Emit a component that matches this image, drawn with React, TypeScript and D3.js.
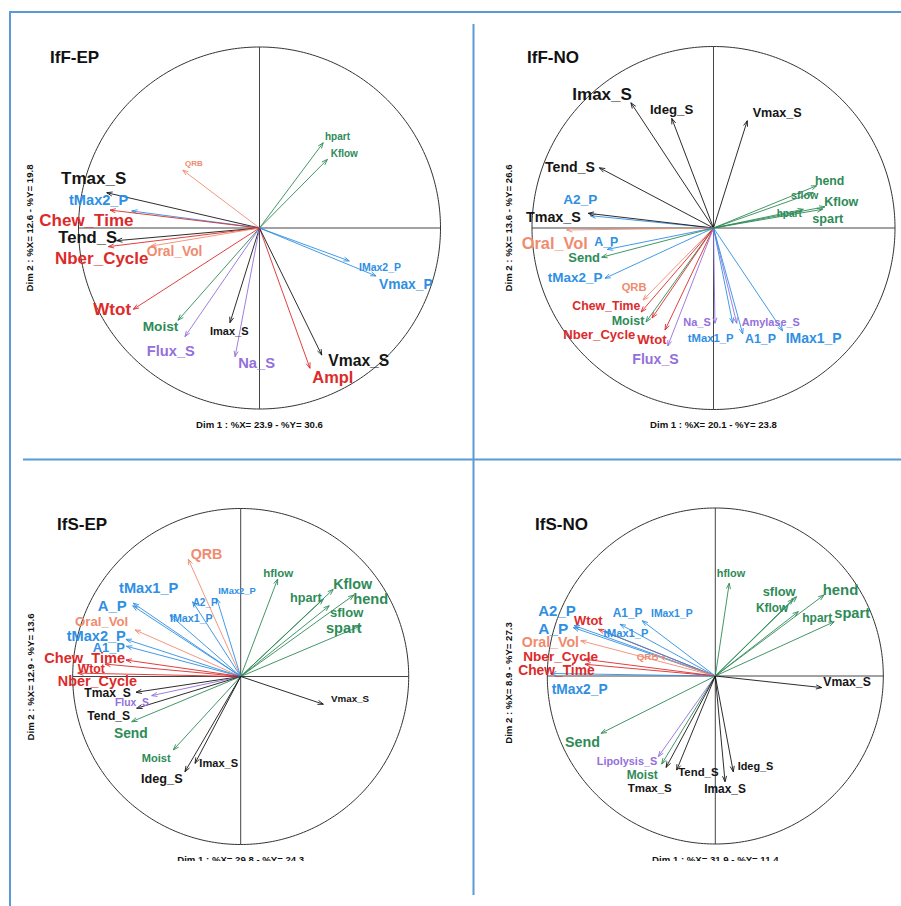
import React from 'react';
import * as d3 from 'd3';

// ---------- Panel 1 : IfF-EP ----------
const P1_TITLE = 'IfF-EP';
const P1_DIM1_LABEL = 'Dim 1 : %X= 23.9 - %Y= 30.6';
const P1_DIM2_LABEL = 'Dim 2 : %X= 12.6 - %Y= 19.8';
const P1_VARS = ['hpart', 'Kflow', 'QRB', 'Tmax_S', 'tMax2_P', 'Chew_Time', 'Tend_S', 'Nber_Cycle', 'Oral_Vol', 'Wtot', 'Moist', 'Flux_S', 'Imax_S', 'Na_S', 'Ampl', 'Vmax_S', 'IMax2_P', 'Vmax_P'];
const P1_DIM1 = [0.352, 0.375, -0.424, -0.844, -0.706, -0.826, -0.789, -0.835, -0.6, -0.697, -0.45, -0.412, -0.163, -0.135, 0.279, 0.344, 0.496, 0.644];
const P1_DIM2 = [0.471, 0.379, 0.32, 0.195, 0.094, 0.099, -0.07, -0.103, -0.1, -0.449, -0.51, -0.6, -0.523, -0.711, -0.775, -0.702, -0.182, -0.265];
const P1_GROUP = ['g', 'g', 's', 'k', 'b', 'r', 'k', 'r', 's', 'r', 'g', 'p', 'k', 'p', 'r', 'k', 'b', 'b'];

// ---------- Panel 2 : IfF-NO ----------
const P2_TITLE = 'IfF-NO';
const P2_DIM1_LABEL = 'Dim 1 : %X= 20.1 - %Y= 23.8';
const P2_DIM2_LABEL = 'Dim 2 : %X= 13.6 - %Y= 26.6';
const P2_VARS = ['Imax_S', 'Ideg_S', 'Vmax_S', 'Tend_S', 'A2_P', 'Tmax_S', 'Oral_Vol', 'A_P', 'Send', 'tMax2_P', 'QRB', 'Chew_Time', 'Moist', 'Nber_Cycle', 'Wtot', 'Flux_S', 'Na_S', 'tMax1_P', 'Amylase_S', 'A1_P', 'IMax1_P', 'hend', 'sflow', 'Kflow', 'hpart', 'spart'];
const P2_DIM1 = [-0.455, -0.23, 0.186, -0.629, -0.68, -0.69, -0.809, -0.585, -0.616, -0.598, -0.388, -0.399, -0.372, -0.339, -0.267, -0.252, 0.008, 0.106, 0.128, 0.161, 0.381, 0.569, 0.55, 0.614, 0.495, 0.601];
const P2_DIM2 = [0.69, 0.604, 0.591, 0.332, 0.068, 0.081, -0.011, -0.118, -0.161, -0.277, -0.397, -0.463, -0.518, -0.496, -0.562, -0.65, -0.525, -0.525, -0.525, -0.584, -0.567, 0.233, 0.195, 0.117, 0.103, 0.103];
const P2_GROUP = ['k', 'k', 'k', 'k', 'b', 'k', 's', 'b', 'g', 'b', 's', 'r', 'g', 'r', 'r', 'p', 'p', 'b', 'p', 'b', 'b', 'g', 'g', 'g', 'g', 'g'];

// ---------- Panel 3 : IfS-EP ----------
const P3_TITLE = 'IfS-EP';
const P3_DIM1_LABEL = 'Dim 1 : %X= 29.8 - %Y= 24.3';
const P3_DIM2_LABEL = 'Dim 2 : %X= 12.9 - %Y= 13.6';
const P3_VARS = ['QRB', 'hflow', 'Kflow', 'hend', 'hpart', 'sflow', 'spart', 'IMax2_P', 'A2_P', 'IMax1_P', 'tMax1_P', 'A_P', 'Oral_Vol', 'tMax2_P', 'A1_P', 'Chew_Time', 'Wtot', 'Nber_Cycle', 'Tmax_S', 'Flux_S', 'Tend_S', 'Send', 'Moist', 'Imax_S', 'Ideg_S', 'Vmax_S'];
const P3_DIM1 = [-0.312, 0.22, 0.551, 0.674, 0.492, 0.527, 0.716, -0.143, -0.286, -0.421, -0.639, -0.643, -0.629, -0.683, -0.68, -0.683, -0.808, -0.97, -0.623, -0.53, -0.619, -0.649, -0.401, -0.272, -0.332, 0.492];
const P3_DIM2 = [0.698, 0.58, 0.519, 0.485, 0.461, 0.421, 0.302, 0.465, 0.445, 0.366, 0.436, 0.421, 0.277, 0.221, 0.18, 0.098, 0.074, 0.02, -0.094, -0.114, -0.189, -0.269, -0.437, -0.517, -0.567, -0.165];
const P3_GROUP = ['s', 'g', 'g', 'g', 'g', 'g', 'g', 'b', 'b', 'b', 'b', 'b', 's', 'b', 'b', 'r', 'r', 'r', 'k', 'p', 'k', 'g', 'g', 'k', 'k', 'k'];

// ---------- Panel 4 : IfS-NO ----------
const P4_TITLE = 'IfS-NO';
const P4_DIM1_LABEL = 'Dim 1 : %X= 31.9 - %Y= 11.4';
const P4_DIM2_LABEL = 'Dim 2 : %X= 8.9 - %Y= 27.3';
const P4_VARS = ['hflow', 'sflow', 'Kflow', 'hend', 'hpart', 'spart', 'Vmax_S', 'A1_P', 'IMax1_P', 'A2_P', 'A_P', 'Wtot', 'tMax1_P', 'Oral_Vol', 'QRB', 'Nber_Cycle', 'Chew_Time', 'tMax2_P', 'Send', 'Lipolysis_S', 'Moist', 'Tmax_S', 'Tend_S', 'Imax_S', 'Ideg_S'];
const P4_DIM1 = [0.083, 0.484, 0.464, 0.647, 0.494, 0.708, 0.633, -0.567, -0.435, -0.84, -0.845, -0.696, -0.657, -0.801, -0.329, -0.78, -0.776, -0.98, -0.68, -0.339, -0.319, -0.293, -0.23, 0.058, 0.107];
const P4_DIM2 = [0.552, 0.472, 0.458, 0.482, 0.383, 0.323, -0.069, 0.308, 0.329, 0.3, 0.288, 0.278, 0.264, 0.21, 0.115, 0.1, 0.07, 0.015, -0.341, -0.48, -0.524, -0.544, -0.56, -0.629, -0.57];
const P4_GROUP = ['g', 'g', 'g', 'g', 'g', 'g', 'k', 'b', 'b', 'b', 'b', 'r', 'b', 's', 's', 'r', 'r', 'b', 'g', 'p', 'g', 'k', 'k', 'k', 'k'];

// ---------- styles (label offset from arrow tip dx, dy, font size) ----------
type LS = Record<string, [number, number, number]>;
const P1_LABEL: LS = {
  hpart: [1.8, -2.7, 10], Kflow: [3.3, -2.9, 10], QRB: [2.2, -3.6, 8], Tmax_S: [-45.7, -9.2, 17],
  tMax2_P: [-62.7, -6, 14.6], Chew_Time: [-70.7, 15.9, 17], Tend_S: [-58.4, 2.3, 16.6],
  Nber_Cycle: [-53.4, 16.9, 17], Oral_Vol: [-4.2, 9.4, 13.8], Wtot: [-40, 6.2, 17],
  Moist: [-35.4, 10.7, 13.7], Flux_S: [-38.2, 19.4, 14.7], Imax_S: [-20, 12.8, 11],
  Na_S: [3.2, 11.8, 14.7], Ampl: [2.3, 14.7, 16.4], Vmax_S: [6.5, 11.4, 15.7],
  IMax2_P: [9.7, 9.6, 10.5], Vmax_P: [2.9, 13, 13.8],
};
const P2_LABEL: LS = {
  Imax_S: [-58.6, -2.3, 17], Ideg_S: [-21.8, -4.4, 13.2], Vmax_S: [5.4, -3.4, 12.6],
  Tend_S: [-54.3, 3.8, 14.1], A2_P: [-26.8, -11.7, 13.6], Tmax_S: [-62.3, 8.7, 14.3],
  Oral_Vol: [-45, 19, 16.4], A_P: [-13, -3.4, 12.3], Send: [-33.4, 4.8, 13],
  tMax2_P: [-57.3, 4.2, 13.5], QRB: [-21.4, -8.6, 11.2], Chew_Time: [-68.8, -2, 12.3],
  Moist: [-34.3, 3, 12.5], Nber_Cycle: [-88.7, 21, 13.1], Wtot: [-27.7, 14, 13.2],
  Flux_S: [-35.5, 18, 14.2], Na_S: [-31.7, 2.7, 11], tMax1_P: [-45, 19.2, 11.3],
  Amylase_S: [5, 2.7, 10.9], A1_P: [2.3, 9.5, 12.4], IMax1_P: [3, 12.1, 14],
  hend: [-1.8, -1.2, 12.3], sflow: [-22.3, 6.4, 10.7], Kflow: [-0.7, -0.3, 12.5],
  hpart: [-26.6, 7.2, 10], spart: [-10.3, 13.7, 12.7],
};
const P3_LABEL: LS = {
  QRB: [2.4, -0.7, 14.3], hflow: [-14.4, -2.1, 11.5], Kflow: [0, -0.8, 14.3], hend: [-0.6, 9, 14.6],
  hpart: [-33.4, 3, 12.7], sflow: [0.8, 11.7, 13], spart: [-35, 7.7, 14.6], IMax2_P: [1.6, -4.4, 9.4],
  A2_P: [0, 4.3, 10], IMax1_P: [0, 6.5, 10.7], tMax1_P: [-14.3, -10.3, 14.6], A_P: [-35, 5.2, 14.9],
  Oral_Vol: [-60, -3.5, 13.2], tMax2_P: [-59.3, 2.1, 14.6], A1_P: [-33.8, 5.7, 12.9],
  Chew_Time: [-81.7, 3, 14.6], Wtot: [-27.3, 9.4, 12.3], Nber_Cycle: [-20, 12.9, 14.4],
  Tmax_S: [-51.7, 4.7, 12.1], Flux_S: [-36.7, 10.8, 10.4], Tend_S: [-49.4, 12.2, 12.1],
  Send: [-17.7, 16.3, 13.8], Moist: [-31.6, 11.6, 11.1], Imax_S: [4.3, 4.1, 11.1],
  Ideg_S: [-43.9, 11.7, 12.7], Vmax_S: [7.6, -2.7, 9.8],
};
const P4_LABEL: LS = {
  hflow: [-12.5, -6.3, 10.9], sflow: [-33.9, -0.7, 12.9], Kflow: [-37.3, 12.5, 11.9], hend: [-1.3, 0, 14.9],
  hpart: [4, 10.3, 12], spart: [0.1, -3.7, 14.6], Vmax_S: [1.7, -1.1, 12.2], A1_P: [-7.3, -6.8, 11.9],
  IMax1_P: [8.8, -3.7, 10.4], A2_P: [-35.9, -9.6, 15], A_P: [-35, 5.9, 15.4], Wtot: [-24.4, -3.8, 12.9],
  tMax1_P: [-1.6, 4.9, 11.1], Oral_Vol: [-59, 6.3, 14.2], QRB: [-23.3, 3.3, 9.8],
  Nber_Cycle: [-61, 1.3, 13.6], Chew_Time: [-66.7, 10.3, 13.8], tMax2_P: [1, 21, 13.8],
  Send: [-36.1, 14.2, 14.3], Lipolysis_S: [-61.6, 7.9, 10.9], Moist: [-35, 15, 11.9],
  Tmax_S: [-38.4, 24.6, 11.5], Tend_S: [1.6, 5.9, 11.4], Imax_S: [-20.8, 11.3, 11.9],
  Ideg_S: [4.4, -1.8, 10.9],
};

const COLORS: Record<string, string> = {
  k: '#151515',
  r: '#dd2a2a',
  b: '#2f8fe3',
  g: '#2e8b57',
  s: '#ef8c70',
  p: '#9370db',
};

const LAYOUT = [
  { cx: 259.5, cy: 228, r: 181, titleX: 50, titleY: 63, dim2X: 29, dim2Y: 228 },
  { cx: 713.5, cy: 228, r: 181.5, titleX: 527, titleY: 63, dim2X: 508, dim2Y: 228 },
  { cx: 240.7, cy: 676.5, r: 168, titleX: 57, titleY: 530, dim2X: 30, dim2Y: 677 },
  { cx: 715.3, cy: 676, r: 168, titleX: 535, titleY: 530, dim2X: 508, dim2Y: 683 },
];

const PANELS = [
  { title: P1_TITLE, d1: P1_DIM1_LABEL, d2: P1_DIM2_LABEL, vars: P1_VARS, x: P1_DIM1, y: P1_DIM2, g: P1_GROUP, lab: P1_LABEL },
  { title: P2_TITLE, d1: P2_DIM1_LABEL, d2: P2_DIM2_LABEL, vars: P2_VARS, x: P2_DIM1, y: P2_DIM2, g: P2_GROUP, lab: P2_LABEL },
  { title: P3_TITLE, d1: P3_DIM1_LABEL, d2: P3_DIM2_LABEL, vars: P3_VARS, x: P3_DIM1, y: P3_DIM2, g: P3_GROUP, lab: P3_LABEL },
  { title: P4_TITLE, d1: P4_DIM1_LABEL, d2: P4_DIM2_LABEL, vars: P4_VARS, x: P4_DIM1, y: P4_DIM2, g: P4_GROUP, lab: P4_LABEL },
];

const FONT = "'Liberation Sans', Arial, sans-serif";
const BORDER = '#5b9bd5';

function Panel({ idx }: { idx: number }) {
  const p = PANELS[idx];
  const L = LAYOUT[idx];
  const xs = d3.scaleLinear().domain([-1, 1]).range([L.cx - L.r, L.cx + L.r]);
  const ys = d3.scaleLinear().domain([-1, 1]).range([L.cy + L.r, L.cy - L.r]);
  const x0 = xs(0);
  const y0 = ys(0);
  const headLen = 6;
  const headAng = (20 * Math.PI) / 180;
  const circle = d3.line<number>()
    .x((t) => xs(Math.cos(t)))
    .y((t) => ys(Math.sin(t)))(d3.range(0, 2 * Math.PI + 0.01, Math.PI / 180));
  return (
    <g>
      <defs>
        <clipPath id={`clipd1-${idx}`}>
          <rect x={0} y={0} width={901} height={idx >= 2 ? 861 : 906} />
        </clipPath>
        <clipPath id={`clipd2-${idx}`}>
          <rect x={0} y={idx === 0 ? 161 : 0} width={901} height={906} />
        </clipPath>
      </defs>
      <path d={circle || ''} fill="none" stroke="#333" strokeWidth={1} />
      <line x1={xs(-1)} x2={xs(1)} y1={y0} y2={y0} stroke="#444" strokeWidth={1} />
      <line x1={x0} x2={x0} y1={ys(-1)} y2={ys(1)} stroke="#444" strokeWidth={1} />
      {p.vars.map((v, i) => {
        const tx = xs(p.x[i]);
        const ty = ys(p.y[i]);
        const th = Math.atan2(ty - y0, tx - x0);
        const c = COLORS[p.g[i]];
        const h1x = tx - headLen * Math.cos(th - headAng);
        const h1y = ty - headLen * Math.sin(th - headAng);
        const h2x = tx - headLen * Math.cos(th + headAng);
        const h2y = ty - headLen * Math.sin(th + headAng);
        return (
          <g key={`a-${v}`}>
            <line x1={x0} y1={y0} x2={tx} y2={ty} stroke={c} strokeWidth={0.9} />
            <path d={`M${h1x},${h1y}L${tx},${ty}L${h2x},${h2y}`} fill="none" stroke={c} strokeWidth={0.9} />
          </g>
        );
      })}
      {p.vars.map((v, i) => {
        const tx = xs(p.x[i]);
        const ty = ys(p.y[i]);
        const st = p.lab[v] || [0, 0, 11];
        return (
          <text key={`t-${v}`} x={tx + st[0]} y={ty + st[1]} fontSize={st[2]} fontWeight="bold"
            fill={COLORS[p.g[i]]} fontFamily={FONT}>
            {v}
          </text>
        );
      })}
      <text x={L.titleX} y={L.titleY} fontSize={17} fontWeight="bold" fill="#111" fontFamily={FONT}>
        {p.title}
      </text>
      <g clipPath={`url(#clipd1-${idx})`}>
        <text x={L.cx} y={L.cy + L.r + 18.5} fontSize={9.6} fontWeight="bold" fill="#111"
          textAnchor="middle" fontFamily={FONT}>
          {p.d1}
        </text>
      </g>
      <g clipPath={`url(#clipd2-${idx})`}>
        <text transform={`translate(${L.dim2X},${L.dim2Y}) rotate(-90)`} fontSize={9.6} fontWeight="bold"
          fill="#111" textAnchor="middle" dominantBaseline="central" fontFamily={FONT}>
          {p.d2}
        </text>
      </g>
    </g>
  );
}

export default function App() {
  return (
    <svg width={901} height={906} style={{ position: 'absolute', left: 0, top: 0, background: '#fff' }}>
      <rect x={0} y={0} width={901} height={906} fill="#fff" />
      <line x1={10} x2={901} y1={12} y2={12} stroke={BORDER} strokeWidth={2} />
      <line x1={10} x2={10} y1={11} y2={906} stroke={BORDER} strokeWidth={2} />
      <line x1={473.5} x2={473.5} y1={24} y2={895} stroke={BORDER} strokeWidth={2} />
      <line x1={23} x2={901} y1={459.5} y2={459.5} stroke={BORDER} strokeWidth={2} />
      {PANELS.map((_, i) => (
        <Panel key={i} idx={i} />
      ))}
    </svg>
  );
}
